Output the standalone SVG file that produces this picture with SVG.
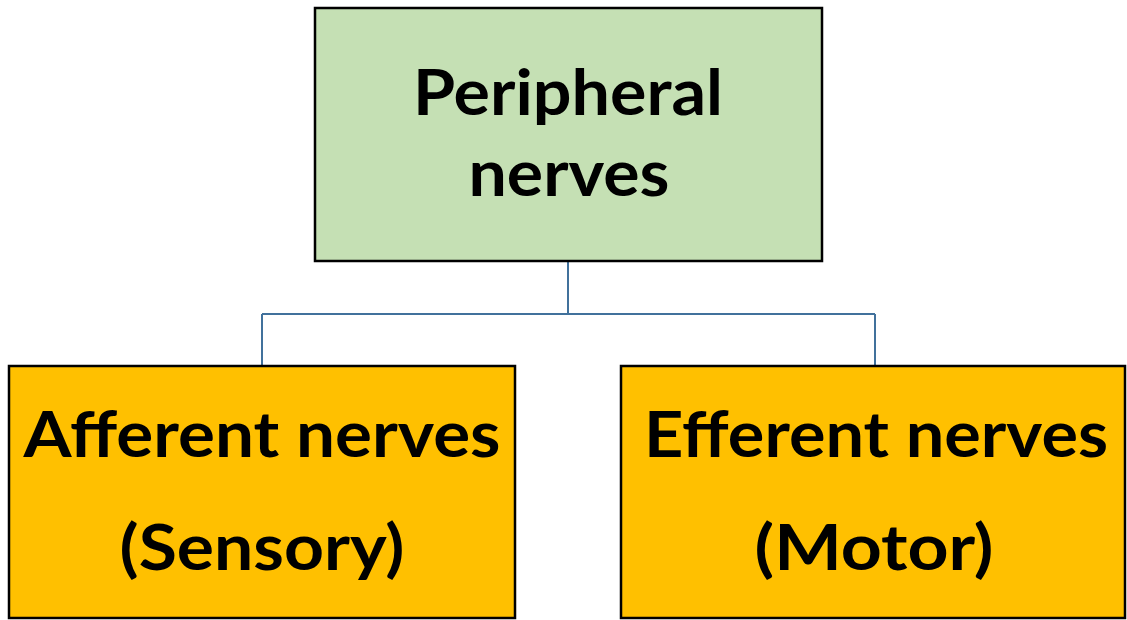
<svg xmlns="http://www.w3.org/2000/svg" width="1127" height="620" viewBox="0 0 1127 620">
<style>
.box{stroke:#000;stroke-width:2.5}
.green{fill:#C5E0B4}
.orange{fill:#FFC000}
.t{font-family:Lato,"Open Sans","Liberation Sans",sans-serif;font-weight:700;font-size:64px;fill:#000;text-anchor:middle}
.conn{fill:none;stroke:#41719C;stroke-width:2}
</style>
<rect width="1127" height="620" fill="#fff"/>
<g id="connectors">
<path class="conn" d="M568,261 V314 M262,314 H875 M262,314 V366 M875,314 V366"/>
</g>
<g id="peripheral">
<rect class="box green" x="315" y="8" width="507" height="253"/>
<text class="t" x="568" y="115" textLength="310" lengthAdjust="spacingAndGlyphs">Peripheral</text>
<text class="t" x="569" y="196" textLength="201" lengthAdjust="spacingAndGlyphs">nerves</text>
</g>
<g id="afferent">
<rect class="box orange" x="9" y="366" width="506" height="252"/>
<text class="t" x="262" y="457" textLength="477" lengthAdjust="spacingAndGlyphs">Afferent nerves</text>
<text class="t" x="262" y="570" textLength="285" lengthAdjust="spacingAndGlyphs">(Sensory)</text>
</g>
<g id="efferent">
<rect class="box orange" x="621" y="366" width="504" height="252"/>
<text class="t" x="876" y="457" textLength="464" lengthAdjust="spacingAndGlyphs">Efferent nerves</text>
<text class="t" x="874" y="570" textLength="239" lengthAdjust="spacingAndGlyphs">(Motor)</text>
</g>
</svg>
